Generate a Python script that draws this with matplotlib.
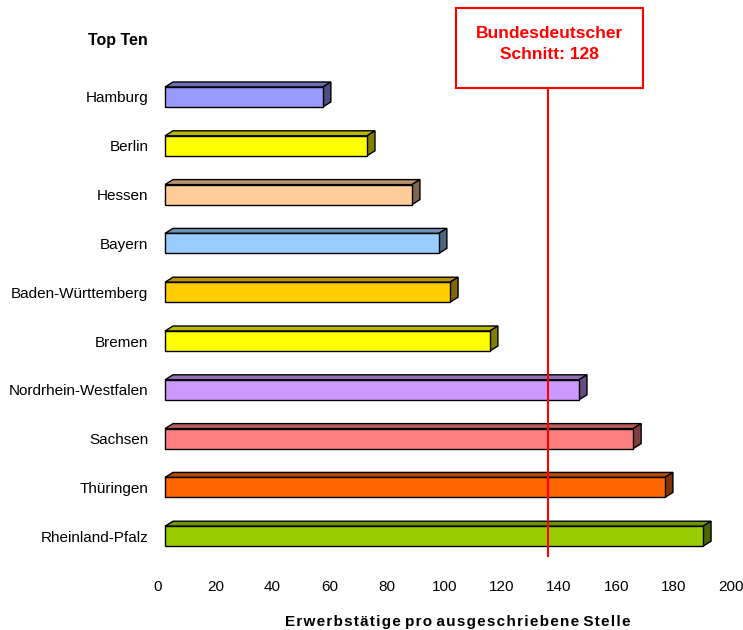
import numpy as np
import matplotlib.pyplot as plt
import matplotlib.transforms as mtransforms
from matplotlib.patches import Polygon, Rectangle
from matplotlib.colors import to_rgb

plt.rcParams['font.family'] = ['Liberation Sans', 'DejaVu Sans']

laender = ['Hamburg', 'Berlin', 'Hessen', 'Bayern', 'Baden-Württemberg', 'Bremen',
           'Nordrhein-Westfalen', 'Sachsen', 'Thüringen', 'Rheinland-Pfalz']
werte = [55.1, 70.5, 86.2, 95.6, 99.5, 113.4, 144.5, 163.4, 174.5, 187.8]
farben = ['#9999FF', '#FFFF00', '#FFCC99', '#99CCFF', '#FFCC00', '#FFFF00',
          '#CC99FF', '#FF8080', '#FF6600', '#99CC00']
schnitt_text = 'Bundesdeutscher\nSchnitt: 128'
schnitt_pos = 136.1
xticks = list(range(0, 201, 20))

W, H = 743, 630
fig = plt.figure(figsize=(W / 100, H / 100), dpi=100)
# axes in pixel terms: x 0->158px, 200->731px ; y from 60px to 565px
ax = fig.add_axes([158 / W, 1 - 565 / H, 573 / W, 505 / H])
ax.set_xlim(0, 200)
ax.set_ylim(9.59, -0.758)

# 3d look: front face shifted 7px right, depth 8px right / 5px up
front = mtransforms.offset_copy(ax.transData, fig=fig, x=7, y=0, units='dots')
dx = 8 * 200 / 573
dy = 5 / 48.8
h = 20 / 48.8


def dunkler(c, f):
    r, g, b = to_rgb(c)
    return (r * f, g * f, b * f)


for i, (v, c) in enumerate(zip(werte, farben)):
    top = i - h / 2
    bot = i + h / 2
    ax.add_patch(Polygon([(0, top), (v, top), (v + dx, top - dy), (dx, top - dy)],
                         closed=True, facecolor=dunkler(c, 0.72), edgecolor='black',
                         linewidth=1, transform=front, zorder=2))
    ax.add_patch(Polygon([(v, top), (v + dx, top - dy), (v + dx, bot - dy), (v, bot)],
                         closed=True, facecolor=dunkler(c, 0.5), edgecolor='black',
                         linewidth=1, transform=front, zorder=2))
    ax.add_patch(Rectangle((0, top), v, h, facecolor=c, edgecolor='black',
                           linewidth=1, transform=front, zorder=3))

ax.axvline(schnitt_pos, ymin=(565 - 556) / 505, ymax=(565 - 88) / 505,
           color='#FF0000', linewidth=1.5, zorder=4)

ax.set_yticks(range(len(laender)))
ax.set_yticklabels(laender, fontsize=11)
ax.set_xticks(xticks)
ax.set_xticklabels([str(t) for t in xticks], fontsize=11)
ax.tick_params(axis='both', length=0)
ax.tick_params(axis='y', pad=7)
ax.tick_params(axis='x', pad=11)
for s in ax.spines.values():
    s.set_visible(False)

xlab = 'Erwerbstätige pro ausgeschriebene Stelle'
xlab = ' '.join('\u200a'.join(w) for w in xlab.split(' '))
ax.set_xlabel(xlab, fontsize=11, fontweight='bold', labelpad=15)
ax.xaxis.label.set_x((458 - 158) / 573)

fig.text(88 / W, 1 - 40 / H, 'Top Ten', fontsize=11.5, fontweight='bold', va='center', ha='left')

fig.patches.append(Rectangle((456 / W, 1 - 88 / H), 187 / W, 80 / H, transform=fig.transFigure,
                             facecolor='white', edgecolor='#FF0000', linewidth=1.5))
fig.text(549.5 / W, 1 - 44 / H, schnitt_text, color='#FF0000', fontsize=12.5, fontweight='bold',
         ha='center', va='center', linespacing=1.55)

fig.savefig('out.png', dpi=100)
